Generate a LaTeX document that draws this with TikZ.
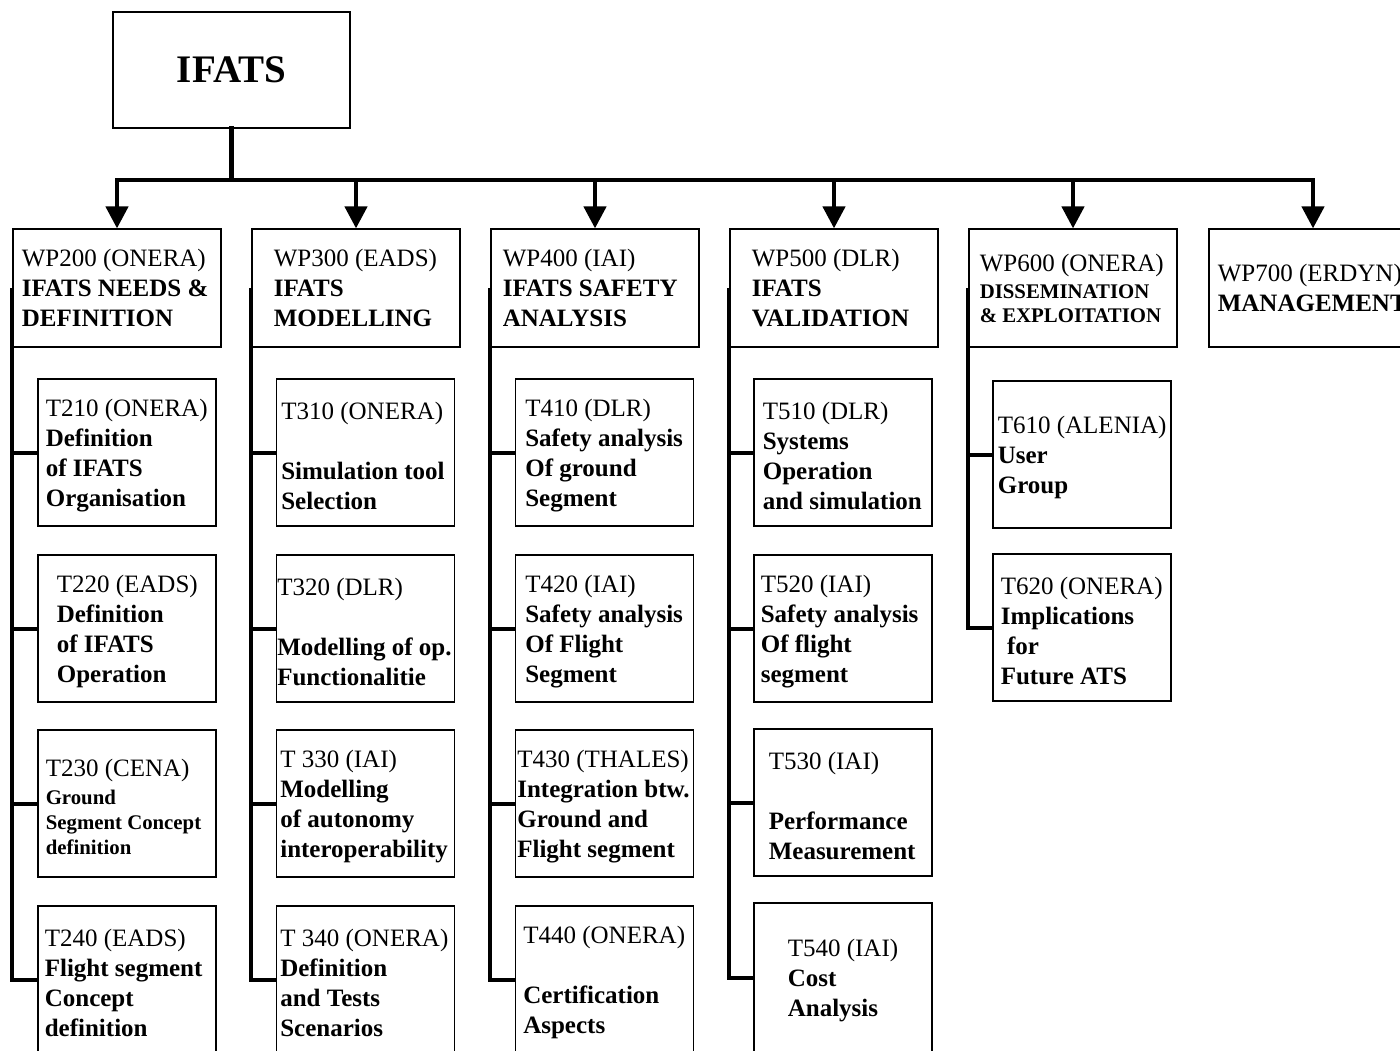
\documentclass[tikz,border=0pt]{standalone}
\usepackage{fontspec}
\setmainfont{Liberation Serif}
\usetikzlibrary{arrows.meta,positioning}
\newcommand{\smallbf}{\fontsize{10.4}{12.5}\selectfont\bfseries}

\begin{document}
\begin{tikzpicture}[
  x=0.5pt, y=-0.5pt,
  font=\fontsize{12.5}{15}\selectfont,
  topbox/.style={draw, line width=0.6pt, minimum width=118.5pt,
    minimum height=58pt, inner sep=0pt, font=\fontsize{19.5}{23}\selectfont\bfseries},
  wpbox/.style={draw, line width=0.6pt, minimum width=104pt,
    minimum height=59pt, inner sep=0pt},
  taskbox/.style={draw, line width=0.6pt, minimum width=89pt,
    minimum height=73.5pt, inner sep=0pt},
  txt/.style={align=left, inner sep=0pt},
  ttxt/.style={txt, yshift=-1.5pt},
  bus/.style={line width=2.2pt, line cap=rect},
  arr/.style={line width=2.2pt, -{Triangle[length=11pt, width=11pt]}},
  trunk/.style={line width=2pt}
]
  \useasboundingbox (0,0) rectangle (1400,1050);
  \clip (0,0) rectangle (1400,1050);

  % top
  \node[topbox] (ifats) at (231.5,70) {\raisebox{-1pt}{IFATS}};
  \coordinate (bus) at (0,180);

  % work packages
  \node[wpbox] (wp200) at (117,288) {};
  \node[wpbox] (wp300) at (356,288) {};
  \node[wpbox] (wp400) at (595,288) {};
  \node[wpbox] (wp500) at (834,288) {};
  \node[wpbox] (wp600) at (1073,288) {};
  \node[wpbox] (wp700) at (1313,288) {};

  \node[txt, right=4.5pt of wp200.west] (wp200l) {WP200 (ONERA)\\ \textbf{IFATS NEEDS \&}\\ \textbf{DEFINITION}};
  \node[txt, right=11pt of wp300.west] (wp300l) {WP300 (EADS)\\ \textbf{IFATS}\\ \textbf{MODELLING}};
  \node[txt, right=6pt of wp400.west] (wp400l) {WP400 (IAI)\\ \textbf{IFATS SAFETY}\\ \textbf{ANALYSIS}};
  \node[txt, right=11pt of wp500.west] (wp500l) {WP500 (DLR)\\ \textbf{IFATS}\\ \textbf{VALIDATION}};
  \node[txt, right=5.5pt of wp600.west] (wp600l) {WP600 (ONERA)\\[-1.5pt] {\smallbf DISSEMINATION}\\[-3pt] {\smallbf \& EXPLOITATION}};
  \node[txt, right=4.5pt of wp700.west] (wp700l) {WP700 (ERDYN)\\ \textbf{MANAGEMENT}};

  % tasks
  \node[taskbox] (t210) at (127,452.5) {};
  \node[taskbox] (t220) at (127,628.5) {};
  \node[taskbox] (t230) at (127,803.5) {};
  \node[taskbox] (t240) at (127,979.5) {};
  \node[taskbox] (t310) at (365.5,452.5) {};
  \node[taskbox] (t320) at (365.5,628.5) {};
  \node[taskbox] (t330) at (365.5,803.5) {};
  \node[taskbox] (t340) at (365.5,979.5) {};
  \node[taskbox] (t410) at (604.5,452.5) {};
  \node[taskbox] (t420) at (604.5,628.5) {};
  \node[taskbox] (t430) at (604.5,803.5) {};
  \node[taskbox] (t440) at (604.5,979.5) {};
  \node[taskbox] (t510) at (843,452.5) {};
  \node[taskbox] (t520) at (843,628.5) {};
  \node[taskbox] (t530) at (843,802.5) {};
  \node[taskbox, minimum height=75pt] (t540) at (843,978) {};
  \node[taskbox] (t610) at (1082,454.5) {};
  \node[taskbox] (t620) at (1082,627.5) {};

  \node[ttxt, right=4pt of t210.west] (t210l) {T210 (ONERA)\\ \textbf{Definition}\\ \textbf{of IFATS}\\ \textbf{Organisation}};
  \node[ttxt, right=9.5pt of t220.west] (t220l) {T220 (EADS)\\ \textbf{Definition}\\ \textbf{of IFATS}\\ \textbf{Operation}};
  \node[ttxt, right=4pt of t230.west] (t230l) {T230 (CENA)\\[-1pt] {\smallbf Ground}\\[-2.5pt] {\smallbf Segment Concept}\\[-2.5pt] {\smallbf definition}};
  \node[ttxt, right=3.5pt of t240.west] (t240l) {T240 (EADS)\\ \textbf{Flight segment}\\ \textbf{Concept}\\ \textbf{definition}};
  \node[ttxt, right=2.5pt of t310.west] (t310l) {T310 (ONERA)\\[15pt] \textbf{Simulation tool}\\ \textbf{Selection}};
  \node[ttxt, right=0.5pt of t320.west] (t320l) {T320 (DLR)\\[15pt] \textbf{Modelling of op.}\\ \textbf{Functionalitie}};
  \node[ttxt, right=2pt of t330.west] (t330l) {T 330 (IAI)\\ \textbf{Modelling}\\ \textbf{of autonomy}\\ \textbf{interoperability}};
  \node[ttxt, right=2pt of t340.west] (t340l) {T 340 (ONERA)\\ \textbf{Definition}\\ \textbf{and Tests}\\ \textbf{Scenarios}};
  \node[ttxt, right=5pt of t410.west] (t410l) {T410 (DLR)\\ \textbf{Safety analysis}\\ \textbf{Of ground}\\ \textbf{Segment}};
  \node[ttxt, right=5pt of t420.west] (t420l) {T420 (IAI)\\ \textbf{Safety analysis}\\ \textbf{Of Flight}\\ \textbf{Segment}};
  \node[ttxt, right=1pt of t430.west] (t430l) {T430 (THALES)\\ \textbf{Integration btw.}\\ \textbf{Ground and}\\ \textbf{Flight segment}};
  \node[ttxt, right=4pt of t440.west] (t440l) {T440 (ONERA)\\[15pt] \textbf{Certification}\\ \textbf{Aspects}};
  \node[ttxt, right=4.5pt of t510.west] (t510l) {T510 (DLR)\\ \textbf{Systems}\\ \textbf{Operation}\\ \textbf{and simulation}};
  \node[ttxt, right=3.5pt of t520.west] (t520l) {T520 (IAI)\\ \textbf{Safety analysis}\\ \textbf{Of flight}\\ \textbf{segment}};
  \node[ttxt, right=7.5pt of t530.west] (t530l) {T530 (IAI)\\[15pt] \textbf{Performance}\\ \textbf{Measurement}};
  \node[ttxt, right=17pt of t540.west] (t540l) {T540 (IAI)\\ \textbf{Cost}\\ \textbf{Analysis}};
  \node[ttxt, right=2.5pt of t610.west] (t610l) {T610 (ALENIA)\\ \textbf{User}\\ \textbf{Group}};
  \node[ttxt, right=4pt of t620.west] (t620l) {T620 (ONERA)\\ \textbf{Implications}\\ \textbf{\ for}\\ \textbf{Future ATS}};

  % connectors
  \draw[bus] (ifats.south) -- (ifats.south |- bus);
  \draw[bus] (wp200.north |- bus) -- (wp700.north |- bus);
  \foreach \w in {wp200,wp300,wp400,wp500,wp600,wp700}
    \draw[arr] (\w.north |- bus) -- (\w.north);

  \foreach \w/\t in {wp200/t240, wp300/t340, wp400/t440, wp500/t540, wp600/t620}
    \draw[trunk] (\w.west) |- (\t.west);
  \foreach \w/\t in {wp200/t210, wp200/t220, wp200/t230, wp300/t310, wp300/t320,
      wp300/t330, wp400/t410, wp400/t420, wp400/t430, wp500/t510, wp500/t520,
      wp500/t530, wp600/t610}
    \draw[trunk] (\w.west |- \t.west) -- (\t.west);
\end{tikzpicture}
\end{document}
